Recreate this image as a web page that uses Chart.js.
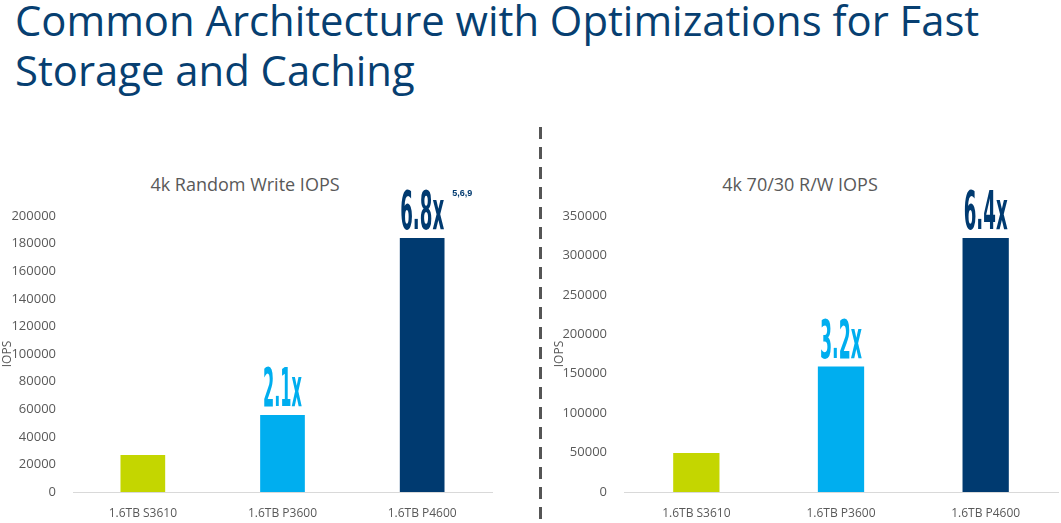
<!DOCTYPE html>
<html><head><meta charset="utf-8">
<script src="https://cdn.jsdelivr.net/npm/chart.js@4"></script>
<style>
body{margin:0;width:1061px;height:523px;background:#fff;position:relative;overflow:hidden;font-family:"Open Sans",sans-serif}
#t{position:absolute;left:15px;top:-5px;font-size:41.8px;line-height:50px;color:#073f71;font-family:"Open Sans";font-weight:400;letter-spacing:0px}
.ct{position:absolute;font-size:18px;color:#595959;text-align:center}
#dash{position:absolute;left:539px;top:127px;width:3px;height:396px;background:repeating-linear-gradient(to bottom,#555 0,#555 12px,transparent 12px,transparent 20px)}
canvas{position:absolute}
</style></head><body>
<div id="t">Common Architecture with Optimizations for Fast<br>Storage and Caching</div>
<div class="ct" style="left:95px;width:300px;top:172px">4k Random Write IOPS</div>
<div class="ct" style="left:650px;width:300px;top:172px">4k 70/30 R/W IOPS</div>
<div id="dash"></div>
<div style="position:absolute;left:0;top:150px;width:500px;height:373px"><canvas id="c1"></canvas></div>
<div style="position:absolute;left:530px;top:150px;width:531px;height:373px"><canvas id="c2"></canvas></div>
<script>
const categories=["1.6TB S3610","1.6TB P3600","1.6TB P4600"];
const writeIops=[26800,55800,184000];
const mixedIops=[49600,159000,322000];
const writeLabels=["","2.1x","6.8x"];
const mixedLabels=["","3.2x","6.4x"];
const writeNotes=["","","5,6,9"];
const mixedNotes=["","",""];
const colors=["#c4d600","#00aeef","#003a70"];

function make(id,data,max,step,labels,notes,yw,padL,padR,targetW){
  const lbl={id:'lbl',afterDatasetsDraw(ch){
    const ctx=ch.ctx,meta=ch.getDatasetMeta(0);
    meta.data.forEach((b,i)=>{
      if(!labels[i])return;
      ctx.save();
      ctx.font="bold 54px 'Liberation Sans Narrow','DejaVu Sans Condensed'";
      ctx.fillStyle=colors[i];
      const w=ctx.measureText(labels[i]).width,s=targetW[i]/w;
      ctx.translate(b.x,b.y-9);ctx.scale(s,1);
      ctx.textAlign='center';ctx.textBaseline='alphabetic';
      ctx.fillText(labels[i],0,0);ctx.restore();
      if(notes[i]){ctx.save();ctx.font="bold 9px 'Liberation Sans'";ctx.fillStyle=colors[i];
        ctx.textBaseline='alphabetic';ctx.fillText(notes[i],b.x+30,b.y-42);ctx.restore();}
    });
  }};
  new Chart(document.getElementById(id),{type:'bar',
    data:{labels:categories,datasets:[{data:data,backgroundColor:colors,barPercentage:0.32,categoryPercentage:1}]},
    options:{responsive:true,maintainAspectRatio:false,animation:false,
      layout:{padding:{top:66,bottom:6,right:padR,left:padL}},
      plugins:{legend:{display:false},tooltip:{enabled:false}},
      scales:{
        x:{grid:{display:false},border:{color:'#d9d9d9'},ticks:{color:'#595959',font:{size:12,family:'Open Sans'},padding:6},afterFit(s){s.height=25}},
        y:{min:0,max:max,grid:{display:false},border:{display:false},
          ticks:{stepSize:step,color:'#595959',font:{size:13,family:'Open Sans'},padding:9,callback:v=>String(v)},
          title:{display:true,text:'IOPS',color:'#595959',font:{size:12,family:'Open Sans'},padding:0},
          afterFit(s){s.width=yw}}
      }},plugins:[lbl]});
}
make('c1',writeIops,200000,20000,writeLabels,writeNotes,73,0,8,[0,39,44]);
make('c2',mixedIops,350000,50000,mixedLabels,mixedNotes,72,22,3,[0,42,44]);
</script></body></html>
